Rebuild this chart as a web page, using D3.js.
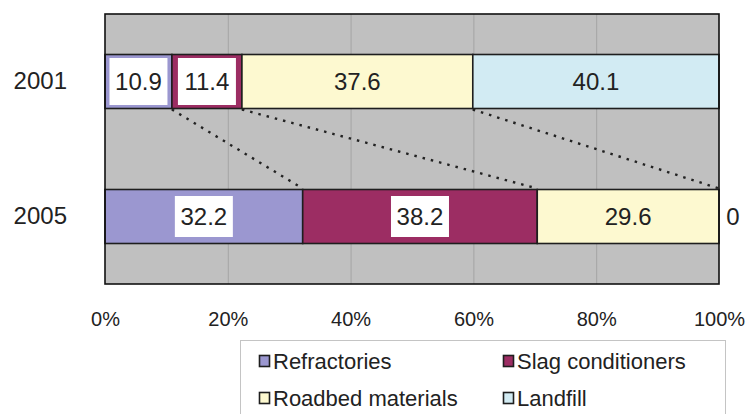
<!DOCTYPE html>
<html>
<head>
<meta charset="utf-8">
<script src="https://cdn.jsdelivr.net/npm/d3@7"></script>
<style>
  body { margin: 0; background: #fff; }
  text { font-family: "Liberation Sans", Arial, sans-serif; fill: #222; }
</style>
</head>
<body>
<div id="wrapper"></div>
<script>
// data
const years = ["2001", "2005"]
const uses = ["Refractories", "Slag conditioners", "Roadbed materials", "Landfill"]
const shares2001 = [10.9, 11.4, 37.6, 40.1]
const shares2005 = [32.2, 38.2, 29.6, 0]
const xTicks = [0, 20, 40, 60, 80, 100]

const colours = ["#9b97d0", "#9c2d63", "#fdf9d0", "#d2ebf3"]
const boxedUses = ["Refractories", "Slag conditioners"]

function drawChart() {
  // 1. table for the stack
  const table = years.map((year, i) => {
    const row = { year }
    const vals = i === 0 ? shares2001 : shares2005
    uses.forEach((u, j) => row[u] = vals[j])
    return row
  })
  const series = d3.stack().keys(uses)(table)

  // 2. dimensions
  let dimensions = {
    width: 746,
    height: 414,
    margin: { top: 14, right: 27, bottom: 130, left: 105 },
  }
  dimensions.boundedWidth = dimensions.width - dimensions.margin.left - dimensions.margin.right
  dimensions.boundedHeight = dimensions.height - dimensions.margin.top - dimensions.margin.bottom

  // 3. canvas
  const wrapper = d3.select("#wrapper")
    .append("svg")
      .attr("width", dimensions.width)
      .attr("height", dimensions.height)

  const bounds = wrapper.append("g")
      .attr("transform", `translate(${dimensions.margin.left},${dimensions.margin.top})`)

  // 4. scales
  const xScale = d3.scaleLinear()
    .domain([0, 100])
    .range([0, dimensions.boundedWidth])

  const yScale = d3.scaleBand()
    .domain(years)
    .range([0, dimensions.boundedHeight])
    .paddingInner(0.6)
    .paddingOuter(0.3)

  // plot background + grid
  bounds.append("rect")
    .attr("width", dimensions.boundedWidth)
    .attr("height", dimensions.boundedHeight)
    .attr("fill", "#c0c0c0")

  const grid = bounds.append("g")
    .attr("transform", `translate(0,${dimensions.boundedHeight})`)
    .call(d3.axisBottom(xScale).tickValues(xTicks.slice(1, -1))
      .tickSize(-dimensions.boundedHeight).tickFormat(""))
  grid.select(".domain").remove()
  grid.selectAll("line").attr("stroke", "#a4a4a4").attr("stroke-width", 1)

  // 5. bars
  const bandH = yScale.bandwidth()
  const groups = bounds.selectAll("g.series")
    .data(series)
    .enter().append("g")
      .attr("class", "series")
      .attr("fill", (d, i) => colours[i])

  groups.selectAll("rect")
    .data(d => d)
    .enter().append("rect")
      .attr("x", d => xScale(d[0]))
      .attr("y", d => yScale(d.data.year))
      .attr("width", d => xScale(d[1]) - xScale(d[0]))
      .attr("height", bandH)
      .attr("stroke", "#1e1e1e")
      .attr("stroke-width", 1.6)

  // connector lines between cumulative boundaries
  const connectors = series.slice(0, -1).map(s => [s[0][1], s[1][1]])
  bounds.selectAll("line.connector")
    .data(connectors)
    .enter().append("line")
      .attr("class", "connector")
      .attr("x1", d => xScale(d[0]))
      .attr("y1", yScale(years[0]) + bandH + 1)
      .attr("x2", d => xScale(d[1]))
      .attr("y2", yScale(years[1]) - 1)
      .attr("stroke", "#222")
      .attr("stroke-width", 2.4)
      .attr("stroke-dasharray", "2.5,6")

  // value labels
  const labelData = []
  series.forEach(s => s.forEach(d => labelData.push({ key: s.key, year: d.data.year, x0: d[0], x1: d[1], v: d.data[s.key] })))

  const labels = bounds.selectAll("g.label")
    .data(labelData)
    .enter().append("g")
      .attr("class", "label")
      .attr("transform", d => {
        const cx = d.v === 0 ? xScale(d.x1) + 14 : (xScale(d.x0) + xScale(d.x1)) / 2
        return `translate(${cx},${yScale(d.year) + bandH / 2})`
      })

  labels.filter(d => boxedUses.includes(d.key) && d.v > 0)
    .append("rect")
      .attr("x", -29)
      .attr("y", d => d.year === years[0] ? -23.5 : -20.5)
      .attr("width", 58)
      .attr("height", d => d.year === years[0] ? 47 : 41)
      .attr("fill", "#fff")

  labels.append("text")
      .attr("text-anchor", "middle")
      .attr("dy", "0.36em")
      .style("font-size", "24px")
      .text(d => d.v)

  // plot frame
  bounds.append("rect")
    .attr("width", dimensions.boundedWidth)
    .attr("height", dimensions.boundedHeight)
    .attr("fill", "none")
    .attr("stroke", "#111")
    .attr("stroke-width", 1.6)

  // 6. axes
  const xAxis = bounds.append("g")
    .attr("transform", `translate(0,${dimensions.boundedHeight})`)
    .call(d3.axisBottom(xScale).tickValues(xTicks).tickSize(0).tickPadding(28)
      .tickFormat(d => d + "%"))
  xAxis.select(".domain").remove()
  xAxis.selectAll("text").style("font-size", "20px").attr("fill", "#222")

  const yAxis = bounds.append("g")
    .call(d3.axisLeft(yScale).tickSize(0).tickPadding(38))
  yAxis.select(".domain").remove()
  yAxis.selectAll("text").style("font-size", "24px").attr("fill", "#222")

  // legend
  const legend = wrapper.append("g")
  legend.append("rect")
    .attr("x", 240.5).attr("y", 340.5)
    .attr("width", 485).attr("height", 90)
    .attr("fill", "#fff")
    .attr("stroke", "#c4c4c4")

  const items = legend.selectAll("g.item")
    .data(uses)
    .enter().append("g")
      .attr("class", "item")
      .attr("transform", (d, i) => `translate(${i % 2 === 0 ? 259 : 503},${i < 2 ? 361 : 398})`)

  items.append("rect")
    .attr("x", 0.5).attr("y", -5.5)
    .attr("width", 10).attr("height", 11)
    .attr("fill", (d, i) => colours[i])
    .attr("stroke", "#1e1e1e")
    .attr("stroke-width", 1.6)

  items.append("text")
    .attr("x", 14)
    .attr("dy", "0.36em")
    .style("font-size", "22px")
    .text(d => d)
}
drawChart()
</script>
</body>
</html>
